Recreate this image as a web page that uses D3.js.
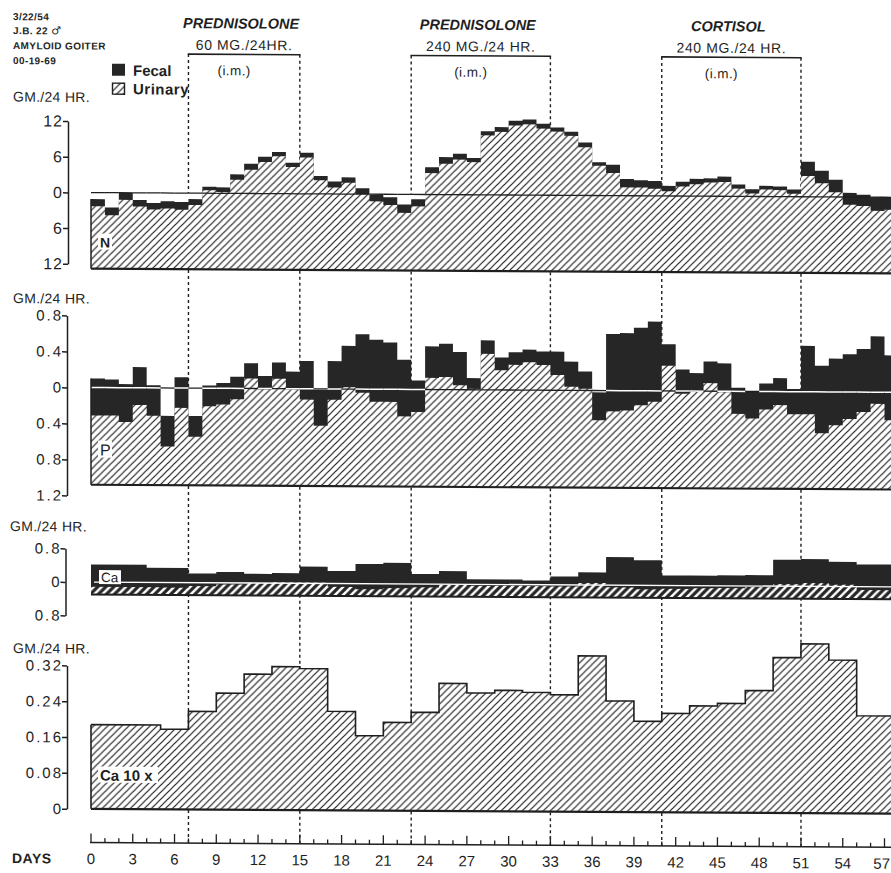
<!DOCTYPE html>
<html><head><meta charset="utf-8">
<script src="https://cdn.jsdelivr.net/npm/d3@7"></script>
<style>body{margin:0;background:#fff}svg{display:block}</style>
</head><body>
<script>
// ---------------- DATA ----------------
const days = [0,1,2,3,4,5,6,7,8,9,10,11,12,13,14,15,16,17,18,19,20,21,22,23,24,25,26,27,28,29,30,31,32,33,34,35,36,37,38,39,40,41,42,43,44,45,46,47,48,49,50,51,52,53,54,55,56,57];
const dayTicks = [0,3,6,9,12,15,18,21,24,27,30,33,36,39,42,45,48,51,54,57];

// Nitrogen, g/24 hr (intake plotted down from zero, output plotted up from intake)
const nIntake = 12.8;
const nUrinary = [10.5,9.0,11.6,10.5,10.0,10.2,10.0,10.8,13.3,13.0, 15.1,16.8,18.1,19.1,17.3,18.9,15.1,13.9,14.7,12.8, 11.6,11.0,9.7,10.8,16.4,18.0,18.7,18.3,22.8,23.4, 24.5,24.7,24.0,23.5,22.8,20.9,17.8,16.6,14.2,14.2, 14.0,13.6,14.4,14.8,15.1,15.2,14.1,13.3,14.0,13.9, 13.3,16.3,15.1,13.6,11.5,11.3,10.5,10.7];
const nFecal   = [1.2,1.3,1.2,1.1,1.1,1.2,1.3,1.0,0.6,0.8, 0.9,1.0,0.9,0.7,0.7,0.8,0.7,1.0,0.9,1.0, 1.1,1.3,1.4,1.2,1.0,1.1,1.0,0.7,0.7,0.8, 0.8,0.8,0.8,0.7,0.7,0.8,0.6,1.4,1.4,1.2, 1.3,0.9,0.8,0.9,0.7,0.9,0.7,0.7,0.6,0.6, 0.7,2.4,2.1,2.1,2.0,1.9,2.3,2.1];

// Phosphorus, g/24 hr
const pIntake = 1.08;
const pUrinary = [0.77,0.77,0.70,0.89,0.77,0.43,0.86,0.54,0.88,0.90, 0.96,1.19,1.07,1.19,1.07,0.96,0.67,0.96,1.10,1.04, 0.94,0.94,0.78,0.83,1.21,1.22,1.13,1.09,1.48,1.30, 1.36,1.39,1.36,1.25,1.12,1.10,0.75,0.85,0.86,0.92, 0.96,1.36,1.05,1.07,1.17,1.07,0.83,0.78,0.88,0.93, 0.83,0.83,0.62,0.71,0.78,0.86,0.95,0.77];
const pFecal   = [0.41,0.40,0.42,0.42,0.34,0.34,0.34,0.23,0.23,0.24, 0.25,0.17,0.15,0.18,0.20,0.43,0.40,0.43,0.46,0.65, 0.69,0.66,0.63,0.35,0.35,0.37,0.37,0.12,0.15,0.14, 0.14,0.14,0.15,0.26,0.28,0.19,0.31,0.86,0.86,0.86, 0.89,0.24,0.27,0.21,0.24,0.32,0.29,0.30,0.29,0.30, 0.28,0.76,0.75,0.74,0.72,0.70,0.75,0.72];

// Calcium, g/24 hr (collection periods, start day of each)
const caIntake = 0.30;
const caOutputStart = [0,4,7,9,11,13,15,17,19,21,23,25,27,31,33,35,37,39,41,43,45,47,49,51,53,55];
const caOutput      = [0.72,0.65,0.52,0.56,0.52,0.54,0.70,0.60,0.77,0.80,0.54,0.61,0.42,0.40,0.50,0.60,0.97,0.90,0.54,0.54,0.55,0.56,0.93,0.95,0.89,0.83];
const caUrinaryStart = [0,5,7,9,11,13,15,17,19,21,23,25,27,29,31,33,35,37,39,41,43,45,47,49,51,53,55];
const caUrinary      = [0.188,0.179,0.219,0.260,0.303,0.320,0.316,0.221,0.167,0.197,0.220,0.285,0.264,0.270,0.266,0.261,0.348,0.248,0.203,0.221,0.238,0.244,0.273,0.347,0.378,0.342,0.218];
const lastDayEnd = 58;

// Treatments
const drugs  = ["PREDNISOLONE","PREDNISOLONE","CORTISOL"];
const doses  = ["60 MG./24HR.","240 MG./24 HR.","240 MG./24 HR."];
const routes = ["(i.m.)","(i.m.)","(i.m.)"];
const tStart = [7,23,41];
const tEnd   = [15,33,51];

const patientInfo = ["3/22/54","J.B. 22 ","AMYLOID GOITER","00-19-69"];
const maleSign = "\u2642";

const nTicks  = [12,6,0,-6,-12];
const pTicks  = [0.8,0.4,0,-0.4,-0.8,-1.2];
const caTicks = [0.8,0,-0.8];
const c10Ticks = [0.32,0.24,0.16,0.08,0];

// ---------------- DRAW ----------------
const W = 891, H = 873;
const INK = "#1f1f1f", BLACK = "#262626";
const FONT = "'Liberation Sans', Arial, sans-serif";

const svg = d3.select("body").append("svg").attr("width", W).attr("height", H);
const defs = svg.append("defs");
const hp = defs.append("pattern").attr("id","hatch").attr("patternUnits","userSpaceOnUse").attr("width",7).attr("height",7);
hp.append("rect").attr("width",7).attr("height",7).attr("fill","#fff");
hp.append("path").attr("d","M-1,1L1,-1M0,7L7,0M6,8L8,6").attr("stroke",INK).attr("stroke-width",1.15);
const hc = defs.append("pattern").attr("id","hatchCa").attr("patternUnits","userSpaceOnUse").attr("width",8).attr("height",8);
hc.append("rect").attr("width",8).attr("height",8).attr("fill",BLACK);
hc.append("path").attr("d","M-1,1L1,-1M0,8L8,0M7,9L9,7").attr("stroke","#fff").attr("stroke-width",2.4);

const root = svg.append("g").attr("transform","skewY(0.34)");

const x = d3.scaleLinear().domain([0,57]).range([91,884.5]);
const yN = d3.scaleLinear().domain([-12,12]).range([263.4,120.6]);
const yP = d3.scaleLinear().domain([-1.2,0.8]).range([495,315]);
const yCa = d3.scaleLinear().domain([-0.8,0.8]).range([615,548]);
const yC10 = d3.scaleLinear().domain([0,0.32]).range([808.3,665]);
const AXIS_Y = 842;

// treatment brackets + dashed period lines (underneath everything)
tStart.forEach((s,i)=>{
  const e = tEnd[i];
  [s,e].forEach(d=>{
    root.append("line").attr("x1",x(d)).attr("x2",x(d)).attr("y1",53).attr("y2",AXIS_Y)
      .attr("stroke",INK).attr("stroke-width",1.4).attr("stroke-dasharray","3,3");
  });
  root.append("line").attr("x1",x(s)-0.7).attr("x2",x(e)+0.7).attr("y1",53).attr("y2",53)
    .attr("stroke",INK).attr("stroke-width",1.6);
  const cx = (x(s)+x(e))/2;
  root.append("text").attr("x",cx-3).attr("y",27).attr("text-anchor","middle")
    .attr("font-family",FONT).attr("font-size",14.5).attr("font-weight","bold").attr("font-style","italic")
    .attr("fill",INK).text(drugs[i]);
  root.append("text").attr("x",cx).attr("y",48.5).attr("text-anchor","middle")
    .attr("font-family",FONT).attr("font-size",14).attr("letter-spacing",0.6)
    .attr("fill",INK).text(doses[i]);
  root.append("text").attr("x",cx-10).attr("y",74).attr("text-anchor","middle")
    .attr("font-family",FONT).attr("font-size",13.5).attr("letter-spacing",0.4)
    .attr("fill",INK).text(routes[i]);
});

// patient info
patientInfo.forEach((t,i)=>{
  const tx = root.append("text").attr("x",13).attr("y",[20,34,49,64][i]).attr("font-family",FONT)
    .attr("font-size",10).attr("font-weight","bold").attr("letter-spacing",0.4).attr("fill",INK).text(t);
  if (i === 1) {
    tx.append("tspan").attr("font-family","'DejaVu Sans', sans-serif").attr("font-size",11).attr("font-weight","bold").text(maleSign);
  }
});

// legend
root.append("rect").attr("x",112).attr("y",63).attr("width",13).attr("height",12).attr("fill",BLACK);
root.append("rect").attr("x",112.5).attr("y",82.5).attr("width",12).attr("height",11).attr("fill","url(#hatch)").attr("stroke",INK).attr("stroke-width",1.4);
root.append("text").attr("x",133).attr("y",75).attr("font-family",FONT).attr("font-size",15).attr("font-weight","bold").attr("fill",INK).text("Fecal");
root.append("text").attr("x",133).attr("y",93.5).attr("font-family",FONT).attr("font-size",15).attr("font-weight","bold").attr("letter-spacing",0.5).attr("fill",INK).text("Urinary");

// unit labels
[[13,101.5],[13,303],[10,531],[13,653]].forEach(p=>{
  root.append("text").attr("x",p[0]).attr("y",p[1]).attr("font-family",FONT).attr("font-size",14)
    .attr("letter-spacing",0.3).attr("fill",INK).text("GM./24 HR.");
});

function stepPts(starts, vals, end){
  const pts = starts.map((s,i)=>({d:s, v:vals[i]}));
  pts.push({d:end, v:vals[vals.length-1]});
  return pts;
}

function balancePanel(y, intake, urinary, fecal, zeroWhite){
  const base = -intake;
  root.append("rect").attr("x",x(0)).attr("y",y(0)).attr("width",W-x(0)+10).attr("height",y(base)-y(0)).attr("fill","#fff");
  const outTop = days.map((d,i)=>base+urinary[i]+fecal[i]);
  const uTop = days.map((d,i)=>base+urinary[i]);
  const area = d3.area().curve(d3.curveStepAfter).x(p=>x(p.d)).y0(y(base)).y1(p=>y(p.v));
  root.append("path").attr("d",area(stepPts(days,outTop,lastDayEnd))).attr("fill",BLACK);
  root.append("path").attr("d",area(stepPts(days,uTop,lastDayEnd))).attr("fill","url(#hatch)");
  days.forEach((d,i)=>{
    const white = zeroWhite && uTop[i] < 0 && outTop[i] > 0;
    root.append("line").attr("x1",x(d)).attr("x2",x(d+1)).attr("y1",y(0)).attr("y2",y(0))
      .attr("stroke",white?"#fff":INK).attr("stroke-width",white?1.5:1.3);
  });
  root.append("line").attr("x1",x(0)).attr("x2",W+10).attr("y1",y(base)).attr("y2",y(base)).attr("stroke",INK).attr("stroke-width",2.2);
  root.append("line").attr("x1",x(0)).attr("x2",x(0)).attr("y1",y(base)).attr("y2",y(outTop[0])).attr("stroke",INK).attr("stroke-width",1.5);
}

balancePanel(yN, nIntake, nUrinary, nFecal, false);
balancePanel(yP, pIntake, pUrinary, pFecal, true);

// Calcium panel
{
  const base = -caIntake;
  const area = d3.area().curve(d3.curveStepAfter).x(p=>x(p.d)).y0(yCa(base)).y1(p=>yCa(p.v));
  const outTop = caOutput.map(v=>base+v);
  const uTop = caUrinary.map(v=>base+v);
  root.append("path").attr("d",area(stepPts(caOutputStart,outTop,lastDayEnd))).attr("fill",BLACK);
  root.append("path").attr("d",area(stepPts(caUrinaryStart,uTop,lastDayEnd))).attr("fill","url(#hatchCa)");
  root.append("line").attr("x1",x(0)+3).attr("x2",W+10).attr("y1",yCa(0)).attr("y2",yCa(0)).attr("stroke","#fff").attr("stroke-width",1.3);
  root.append("line").attr("x1",x(0)).attr("x2",W+10).attr("y1",yCa(base)).attr("y2",yCa(base)).attr("stroke",INK).attr("stroke-width",2);
}

// Urinary calcium x10 panel
{
  const area = d3.area().curve(d3.curveStepAfter).x(p=>x(p.d)).y0(yC10(0)).y1(p=>yC10(p.v));
  const line = d3.line().curve(d3.curveStepAfter).x(p=>x(p.d)).y(p=>yC10(p.v));
  const pts = stepPts(caUrinaryStart, caUrinary, lastDayEnd);
  root.append("path").attr("d",area(pts)).attr("fill","url(#hatch)");
  root.append("path").attr("d",line(pts)).attr("fill","none").attr("stroke",INK).attr("stroke-width",1.6);
  root.append("line").attr("x1",x(0)).attr("x2",x(0)).attr("y1",yC10(0)).attr("y2",yC10(caUrinary[0])).attr("stroke",INK).attr("stroke-width",1.6);
  root.append("line").attr("x1",x(0)).attr("x2",W+10).attr("y1",yC10(0)).attr("y2",yC10(0)).attr("stroke",INK).attr("stroke-width",2.2);
}

// y axes
function yAxis(y, ax, vals, fmt, fs, ls, pad){
  const a = root.append("g").attr("transform",`translate(${ax},0)`)
    .call(d3.axisLeft(y).tickValues(vals).tickSize(5).tickSizeOuter(0).tickPadding(pad).tickFormat(fmt));
  a.select(".domain").attr("stroke",INK).attr("stroke-width",1.5);
  a.selectAll(".tick line").attr("stroke",INK).attr("stroke-width",1.5);
  a.selectAll("text").attr("font-family",FONT).attr("font-size",fs).attr("letter-spacing",ls).attr("fill",INK);
}
const absFmt = d => { const v = Math.abs(d); return v===0 ? "0" : String(v); };
yAxis(yN, 68, nTicks, absFmt, 16, 1, 0);
yAxis(yP, 67, pTicks, absFmt, 15, 2, -1);
yAxis(yCa, 65.5, caTicks, absFmt, 15, 2, -1);
yAxis(yC10, 67, c10Ticks, d=> d===0 ? "0" : d.toFixed(2), 15, 2, -1);

// panel labels
function tag(tx, ty, w, h, label, fs, bold){
  root.append("rect").attr("x",tx-2).attr("y",ty-h+2).attr("width",w).attr("height",h).attr("fill","#fff");
  root.append("text").attr("x",tx).attr("y",ty).attr("font-family",FONT).attr("font-size",fs)
    .attr("font-weight",bold?"bold":"normal").attr("fill",INK).text(label);
}
tag(100, 247, 14, 16, "N", 14, true);
tag(100, 455, 14, 17, "P", 16, false);
tag(101, 581.5, 22, 14, "Ca", 13.5, false);
tag(100, 780, 60, 16, "Ca 10 x", 15, true);

// x axis
root.append("line").attr("x1",x(0)-1).attr("x2",W+10).attr("y1",AXIS_Y).attr("y2",AXIS_Y).attr("stroke",INK).attr("stroke-width",1.6);
days.forEach(d=>{
  const major = dayTicks.includes(d);
  root.append("line").attr("x1",x(d)).attr("x2",x(d)).attr("y1",AXIS_Y).attr("y2",AXIS_Y-(major?9:4.5))
    .attr("stroke",INK).attr("stroke-width",1.3);
});
dayTicks.forEach(d=>{
  const t = root.append("text").attr("x",x(d)).attr("y",863.5).attr("text-anchor","middle")
    .attr("font-family",FONT).attr("font-size",15).attr("fill",INK).text(d);
  const w = t.node().getComputedTextLength();
  if (x(d) + w/2 > W - 1) t.attr("x", W - 1 - w/2);
});
root.append("text").attr("x",12).attr("y",863).attr("font-family",FONT).attr("font-size",14)
  .attr("font-weight","bold").attr("letter-spacing",0.5).attr("fill",INK).text("DAYS");
</script>
</body></html>
